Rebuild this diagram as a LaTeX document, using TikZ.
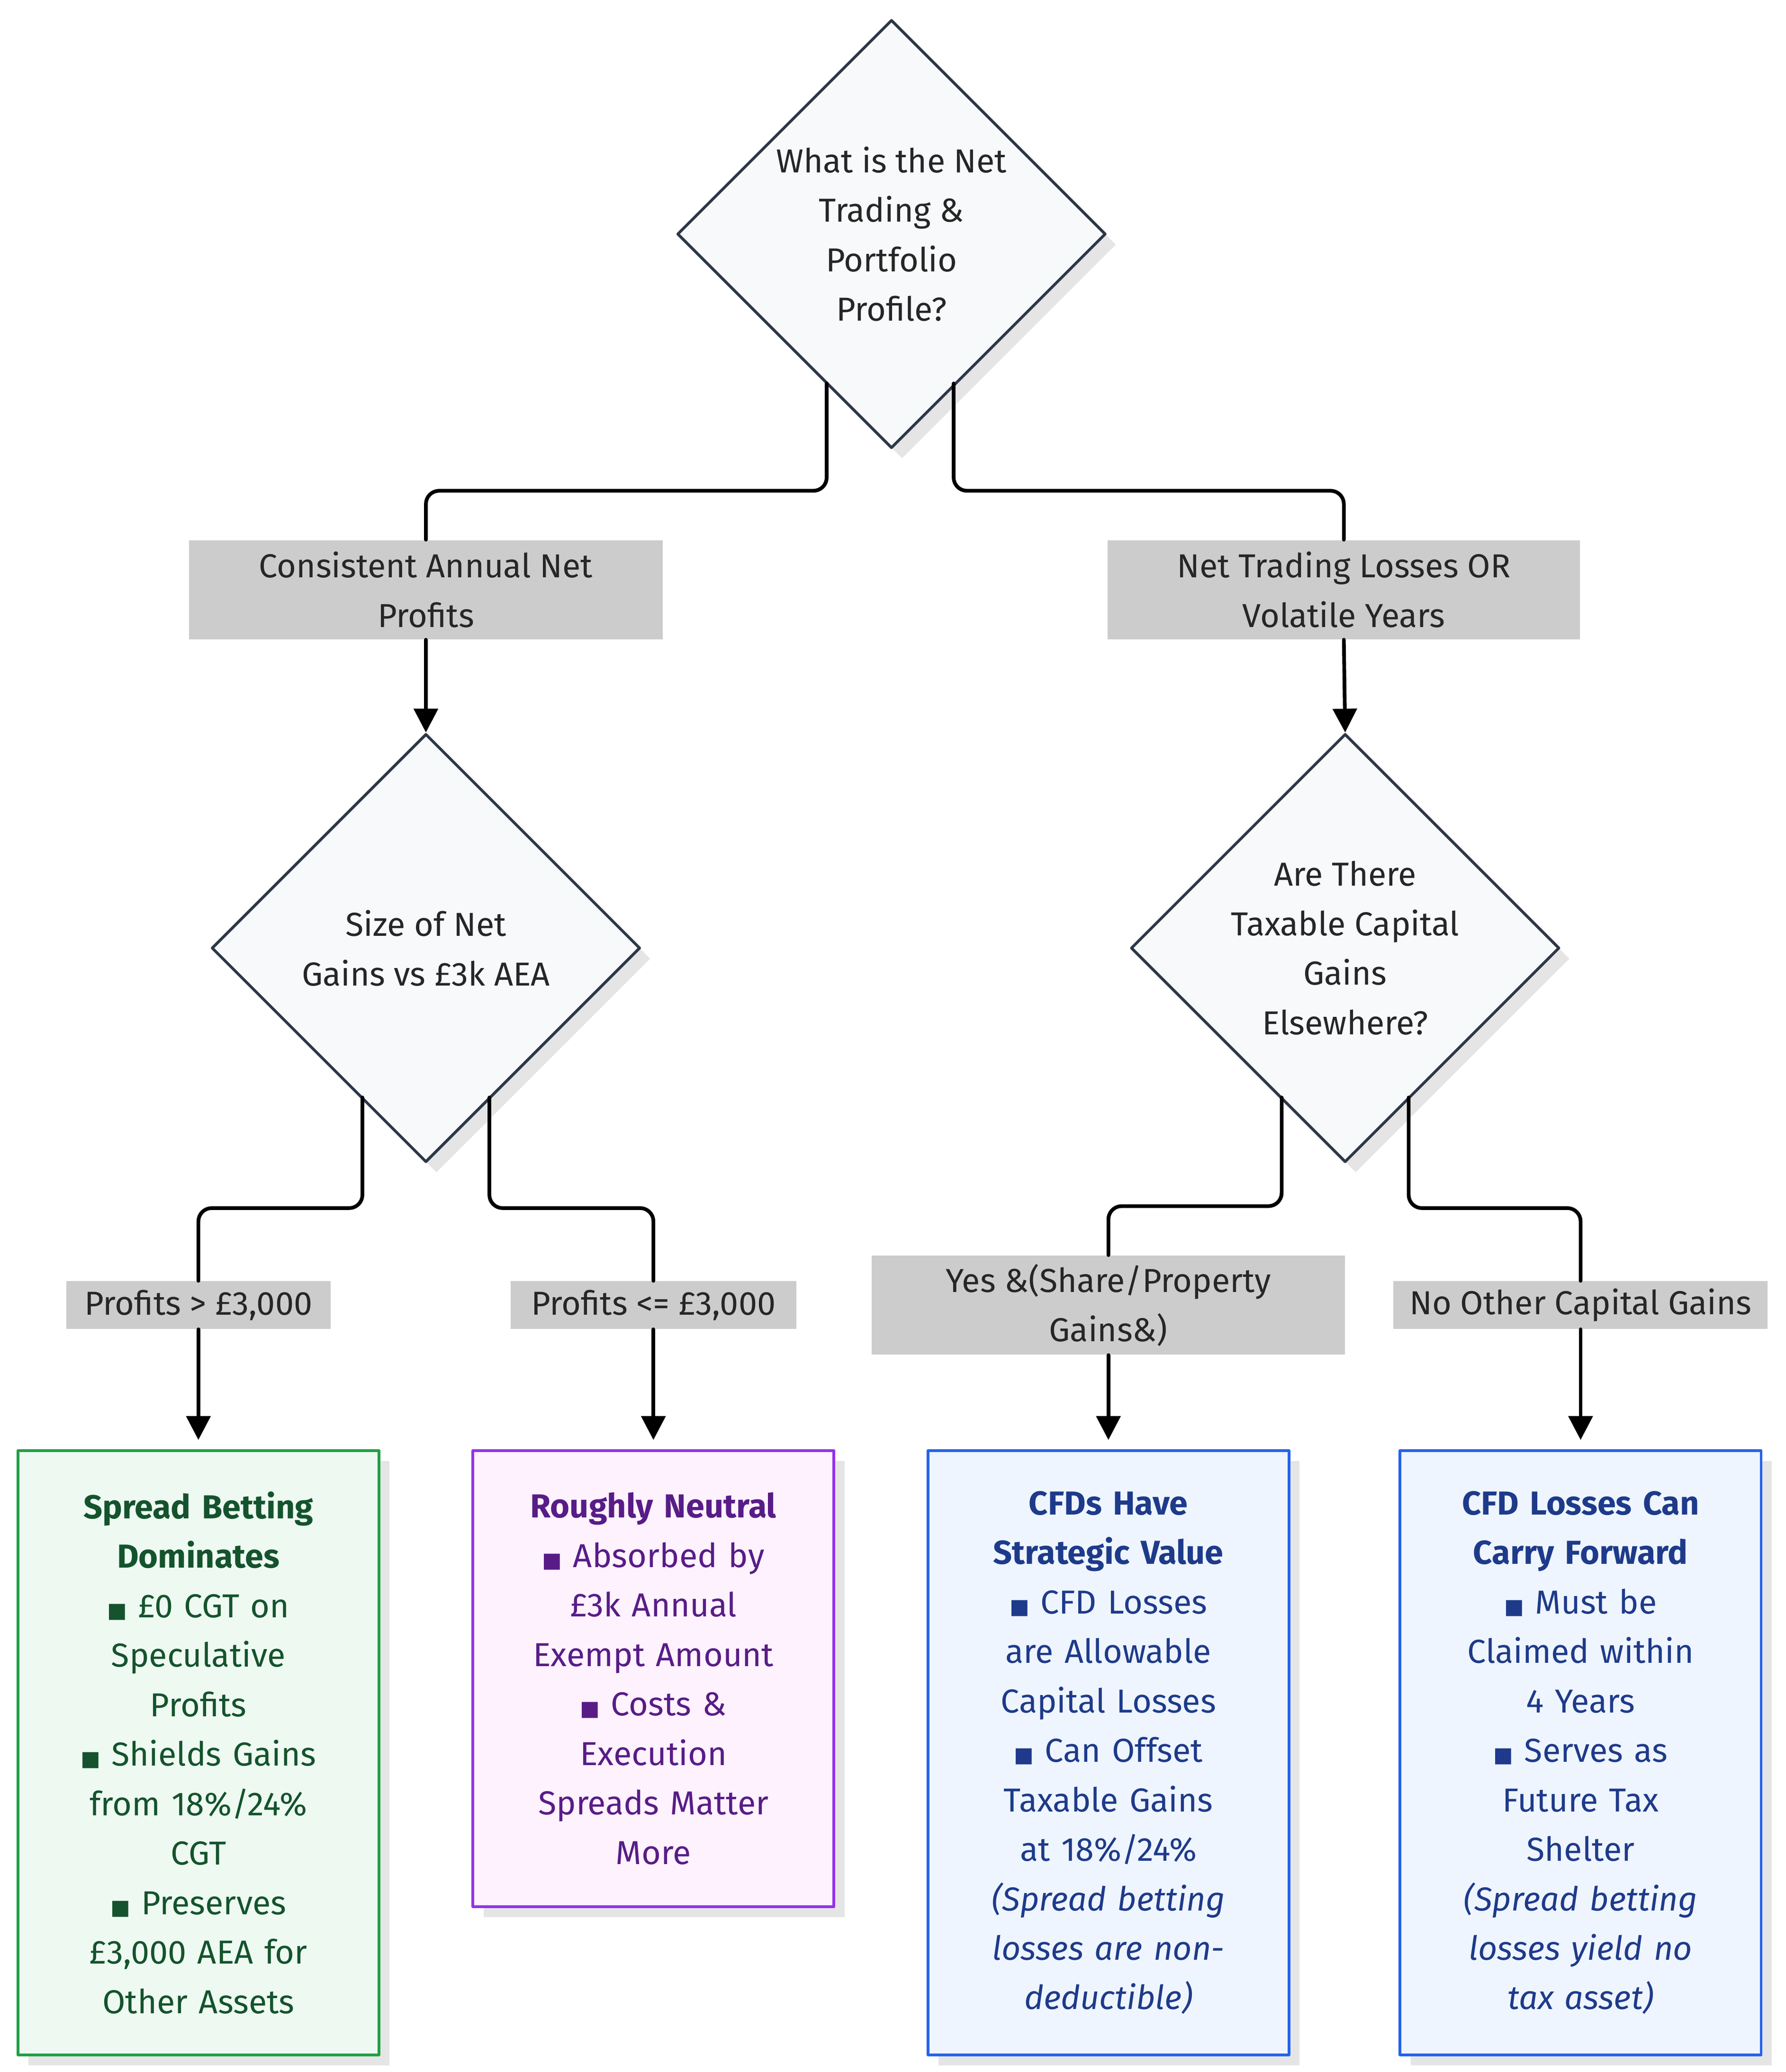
\documentclass[tikz,border=0pt]{standalone}
\usepackage{fontspec}
\setmainfont{Fira Sans}
\newfontfamily\symfont{DejaVu Sans}
\usetikzlibrary{shapes.geometric,calc,shadows,arrows.meta}
\newcommand{\bul}{{\symfont\fontsize{9}{9}\selectfont ■}}
\definecolor{dline}{HTML}{2D3748}
\definecolor{dfill}{HTML}{F7F9FB}
\definecolor{gfill}{HTML}{EEF9F1}
\definecolor{gline}{HTML}{1FA046}
\definecolor{gtext}{HTML}{14532D}
\definecolor{pfill}{HTML}{FDF2FD}
\definecolor{pline}{HTML}{9333EA}
\definecolor{ptext}{HTML}{581C87}
\definecolor{bfill}{HTML}{EEF5FE}
\definecolor{bline}{HTML}{2563EB}
\definecolor{btext}{HTML}{1E3A8A}
\definecolor{lblfill}{HTML}{CCCCCC}
\begin{document}
\begin{tikzpicture}[x=0.02cm,y=-0.02cm,line cap=round,line join=round,
  font=\fontsize{14.3}{21.3}\selectfont,
  shade/.style={drop shadow={shadow xshift=0.16cm,shadow yshift=-0.16cm,fill=black!10,opacity=1}},
  decision/.style={diamond,aspect=1,draw=dline,line width=1.2pt,fill=dfill,inner sep=0pt,minimum size=6.48cm,shade},
  qtext/.style={align=center,text=black!85},
  lbl/.style={fill=lblfill,align=center,inner sep=2pt,minimum height=1.5cm,text=black!85},
  leaf/.style={rectangle,draw,line width=1.2pt,align=center,text width=4.5cm,minimum width=5.46cm,anchor=north,shade},
  flow/.style={line width=1.6pt,rounded corners=0.2cm},
  arr/.style={line width=1.6pt,-{Triangle[length=0.36cm,width=0.36cm]}}]

\useasboundingbox (0,0) rectangle (1350,1567);

% decisions
\node[decision] (q1) at (674,177) {};
\node[qtext] at (q1) {What is the Net\\Trading \&\\Portfolio\\Profile?};
\node[decision] (q2) at (322,717) {};
\node[qtext] at (q2) {Size of Net\\Gains vs £3k AEA};
\node[decision] (q3) at (1017,717) {};
\node[qtext] at (q3) {Are There\\Taxable Capital\\Gains\\Elsewhere?};

% edge labels
\node[lbl,minimum width=7.16cm] (l1) at (322,446) {Consistent Annual Net\\Profits};
\node[lbl,minimum width=7.14cm] (l2) at (1016,446) {Net Trading Losses OR\\Volatile Years};
\node[lbl,minimum width=4cm,minimum height=0.72cm] (l3) at (150,987) {Profits > £3,000};
\node[lbl,minimum width=4.32cm,minimum height=0.72cm] (l4) at (494,987) {Profits <= £3,000};
\node[lbl,minimum width=7.16cm] (l5) at (838,987) {Yes \&(Share/Property\\Gains\&)};
\node[lbl,minimum width=5.66cm,minimum height=0.72cm] (l6) at (1195,987) {No Other Capital Gains};

% outcomes
\node[leaf,fill=gfill,draw=gline,text=gtext,minimum height=9.14cm] (r1) at (150,1096)
  {\textbf{Spread Betting\\Dominates}\\\bul{} £0 CGT on\\Speculative\\Profits\\\bul{} Shields Gains\\from 18\%/24\%\\CGT\\\bul{} Preserves\\£3,000 AEA for\\Other Assets};
\node[leaf,fill=pfill,draw=pline,text=ptext,minimum height=6.9cm] (r2) at (494,1096)
  {\textbf{Roughly Neutral}\\\bul{} Absorbed by\\£3k Annual\\Exempt Amount\\\bul{} Costs \&\\Execution\\Spreads Matter\\More};
\node[leaf,fill=bfill,draw=bline,text=btext,minimum height=9.14cm] (r3) at (838,1096)
  {\textbf{CFDs Have\\Strategic Value}\\\bul{} CFD Losses\\are Allowable\\Capital Losses\\\bul{} Can Offset\\Taxable Gains\\at 18\%/24\%\\\textit{(Spread betting\\losses are non-\\deductible)}};
\node[leaf,fill=bfill,draw=bline,text=btext,minimum height=9.14cm] (r4) at (1195,1096)
  {\textbf{CFD Losses Can\\Carry Forward}\\\bul{} Must be\\Claimed within\\4 Years\\\bul{} Serves as\\Future Tax\\Shelter\\\textit{(Spread betting\\losses yield no\\tax asset)}};

% connectors
\draw[flow] ($(q1)+(-49,113)$) |- ($(l1.north)+(0,-37)$) -- (l1.north);
\draw[flow] ($(q1)+(47,113)$) |- ($(l2.north)+(0,-37)$) -- (l2.north);
\draw[arr] (l1.south) -- (q2.north);
\draw[arr] (l2.south) -- (q3.north);
\draw[flow] ($(q2)+(-48,113)$) |- ($(l3.north)+(0,-55)$) -- (l3.north);
\draw[flow] ($(q2)+(48,113)$) |- ($(l4.north)+(0,-55)$) -- (l4.north);
\draw[flow] ($(q3)+(-48,113)$) |- ($(l5.north)+(0,-37)$) -- (l5.north);
\draw[flow] ($(q3)+(48,113)$) |- ($(l6.north)+(0,-55)$) -- (l6.north);
\draw[arr] (l3.south) -- ($(r1.north)+(0,-7)$);
\draw[arr] (l4.south) -- ($(r2.north)+(0,-7)$);
\draw[arr] (l5.south) -- ($(r3.north)+(0,-7)$);
\draw[arr] (l6.south) -- ($(r4.north)+(0,-7)$);
\end{tikzpicture}
\end{document}
